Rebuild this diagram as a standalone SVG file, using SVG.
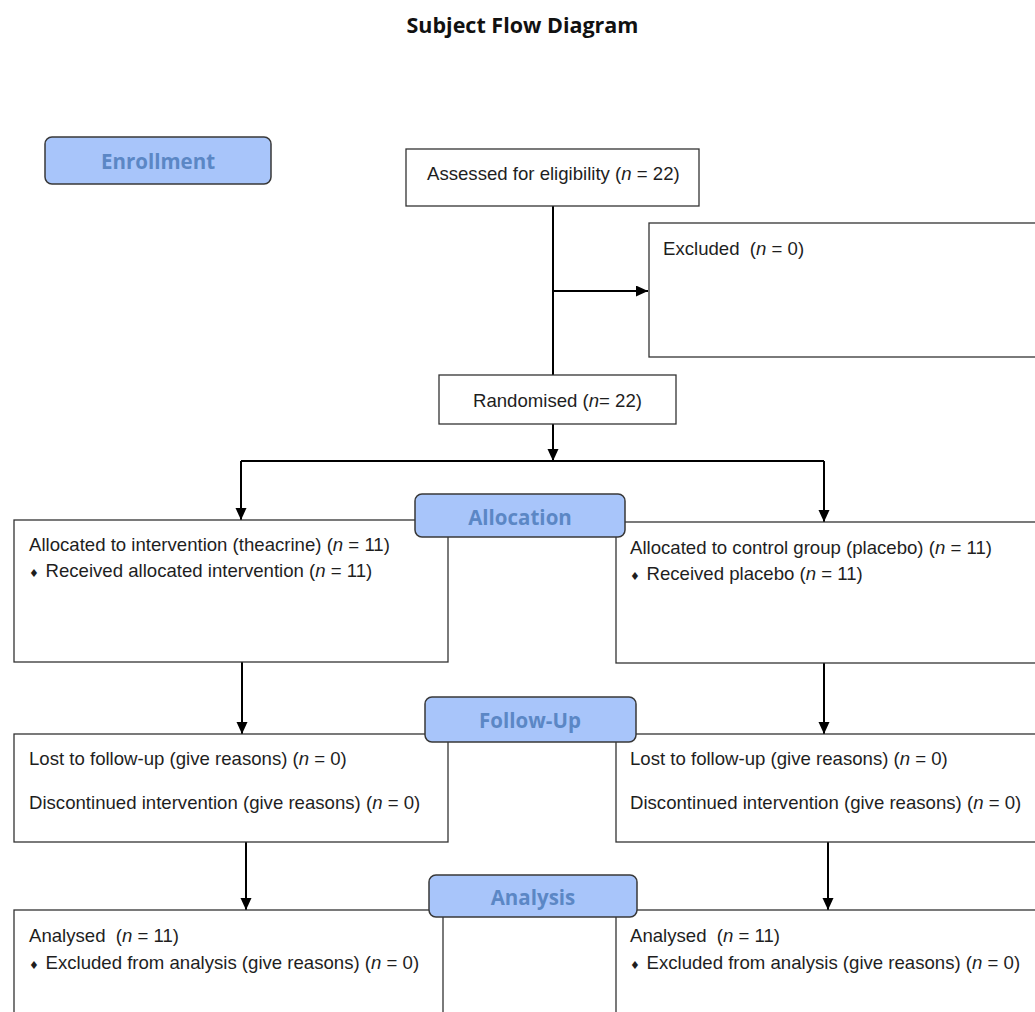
<svg xmlns="http://www.w3.org/2000/svg" width="1035" height="1012" viewBox="0 0 1035 1012">
<style>
.box{fill:#fff;stroke:#333;stroke-width:1.3}
.lab{fill:#a8c5fa;stroke:#383838;stroke-width:1.5}
.lt{font-family:"Open Sans","Noto Sans",sans-serif;font-weight:bold;font-size:20.5px;fill:#5b87c5;text-anchor:middle}
.t{font-family:"Liberation Sans",Arial,sans-serif;font-size:18.6px;fill:#1e1e1e;white-space:pre}
.d{font-family:"DejaVu Sans",sans-serif;font-size:11px}
.c{stroke:#000;stroke-width:2;fill:none}
.title{font-family:"Open Sans","Noto Sans",sans-serif;font-weight:bold;font-size:21.5px;fill:#111;text-anchor:middle}
</style>
<defs>
<marker id="ah" markerUnits="userSpaceOnUse" markerWidth="13" markerHeight="13" refX="12" refY="5.5" orient="auto">
<path d="M0,0 L12,5.5 L0,11 z" fill="#000"/>
</marker>
</defs>
<rect width="1035" height="1012" fill="#fff"/>
<text class="title" x="522.5" y="33">Subject Flow Diagram</text>

<g id="connectors">
<line class="c" x1="553" y1="206" x2="553" y2="375"/>
<line class="c" x1="553" y1="291" x2="648" y2="291" marker-end="url(#ah)"/>
<line class="c" x1="553" y1="424" x2="553" y2="461" marker-end="url(#ah)"/>
<line class="c" x1="241" y1="461" x2="824" y2="461"/>
<line class="c" x1="241" y1="461" x2="241" y2="520" marker-end="url(#ah)"/>
<line class="c" x1="824" y1="461" x2="824" y2="522" marker-end="url(#ah)"/>
<line class="c" x1="242" y1="662" x2="242" y2="734" marker-end="url(#ah)"/>
<line class="c" x1="824" y1="663" x2="824" y2="734" marker-end="url(#ah)"/>
<line class="c" x1="246" y1="842" x2="246" y2="910" marker-end="url(#ah)"/>
<line class="c" x1="828" y1="842" x2="828" y2="910" marker-end="url(#ah)"/>
</g>

<g id="assessed">
<rect class="box" x="406" y="149" width="293" height="57"/>
<text class="t" x="427" y="180">Assessed for eligibility (<tspan font-style="italic">n</tspan> = 22)</text>
</g>
<g id="excluded">
<rect class="box" x="649" y="223" width="400" height="134"/>
<text class="t" x="663" y="255" xml:space="preserve">Excluded  (<tspan font-style="italic">n</tspan> = 0)</text>
</g>
<g id="randomised">
<rect class="box" x="439" y="375" width="237" height="49"/>
<text class="t" x="473" y="407">Randomised (<tspan font-style="italic">n</tspan>= 22)</text>
</g>
<g id="alloc-left">
<rect class="box" x="14" y="520" width="434" height="142"/>
<text class="t" x="29" y="551">Allocated to intervention (theacrine) (<tspan font-style="italic">n</tspan> = 11)</text>
<text class="t" x="29" y="577"><tspan class="d">♦</tspan><tspan x="45.5">Received allocated intervention (</tspan><tspan font-style="italic">n</tspan> = 11)</text>
</g>
<g id="alloc-right">
<rect class="box" x="616" y="522" width="430" height="141"/>
<text class="t" x="630" y="554">Allocated to control group (placebo) (<tspan font-style="italic">n</tspan> = 11)</text>
<text class="t" x="630" y="580"><tspan class="d">♦</tspan><tspan x="646.5">Received placebo (</tspan><tspan font-style="italic">n</tspan> = 11)</text>
</g>
<g id="fu-left">
<rect class="box" x="14" y="734" width="434" height="108"/>
<text class="t" x="29" y="765">Lost to follow-up (give reasons) (<tspan font-style="italic">n</tspan> = 0)</text>
<text class="t" x="29" y="809">Discontinued intervention (give reasons) (<tspan font-style="italic">n</tspan> = 0)</text>
</g>
<g id="fu-right">
<rect class="box" x="616" y="734" width="430" height="108"/>
<text class="t" x="630" y="765">Lost to follow-up (give reasons) (<tspan font-style="italic">n</tspan> = 0)</text>
<text class="t" x="630" y="809">Discontinued intervention (give reasons) (<tspan font-style="italic">n</tspan> = 0)</text>
</g>
<g id="an-left">
<rect class="box" x="14" y="910" width="429" height="120"/>
<text class="t" x="29" y="942" xml:space="preserve">Analysed  (<tspan font-style="italic">n</tspan> = 11)</text>
<text class="t" x="29" y="969"><tspan class="d">♦</tspan><tspan x="45.5">Excluded from analysis (give reasons) (</tspan><tspan font-style="italic">n</tspan> = 0)</text>
</g>
<g id="an-right">
<rect class="box" x="616" y="910" width="430" height="120"/>
<text class="t" x="630" y="942" xml:space="preserve">Analysed  (<tspan font-style="italic">n</tspan> = 11)</text>
<text class="t" x="630" y="969"><tspan class="d">♦</tspan><tspan x="646.5">Excluded from analysis (give reasons) (</tspan><tspan font-style="italic">n</tspan> = 0)</text>
</g>

<g id="lbl-enrollment">
<rect class="lab" x="45" y="137" width="226" height="47" rx="7"/>
<text class="lt" x="158" y="169">Enrollment</text>
</g>
<g id="lbl-allocation">
<rect class="lab" x="415" y="494" width="210" height="43" rx="7"/>
<text class="lt" x="520" y="525">Allocation</text>
</g>
<g id="lbl-followup">
<rect class="lab" x="425" y="697" width="211" height="45" rx="7"/>
<text class="lt" x="530" y="728">Follow-Up</text>
</g>
<g id="lbl-analysis">
<rect class="lab" x="429" y="875" width="208" height="42" rx="7"/>
<text class="lt" x="533" y="905">Analysis</text>
</g>
</svg>
